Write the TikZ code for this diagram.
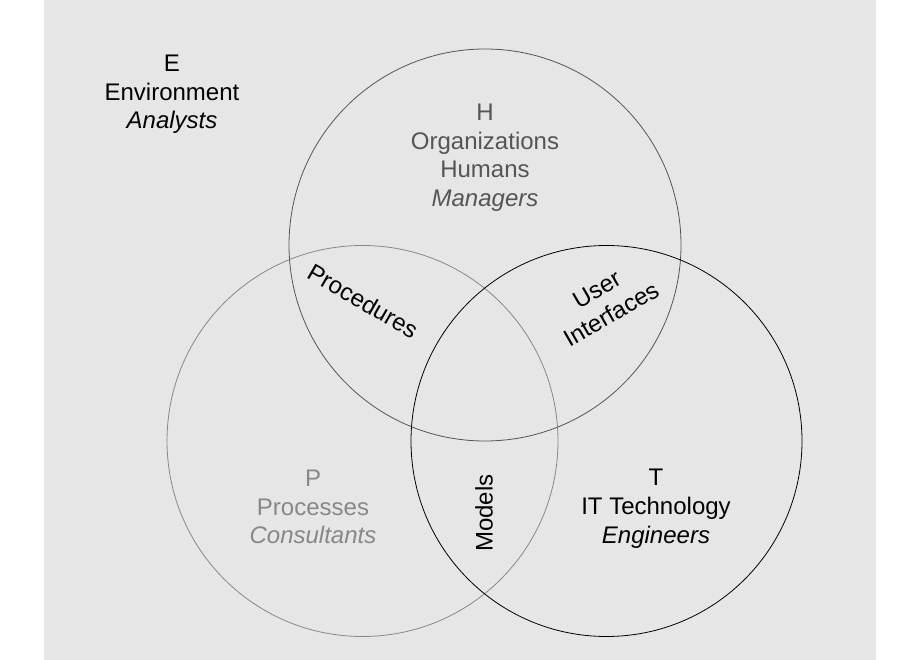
\documentclass[tikz,border=0pt]{standalone}
\usepackage{fontspec}
\setmainfont{Liberation Sans}
\definecolor{bg}{HTML}{E6E6E6}
\definecolor{hgray}{HTML}{555555}
\definecolor{pgray}{HTML}{888888}
\begin{document}
\begin{tikzpicture}[x=1pt,y=-1pt,
  lbl/.style={inner sep=0pt,anchor=base,font=\fontsize{24}{28.7}\selectfont},
  rlbl/.style={inner sep=0pt,align=center,font=\fontsize{24}{28.7}\selectfont},
  ring/.style={line width=0.8pt}]
\fill[white] (0,0) rectangle (920,660);
\useasboundingbox (0,0) rectangle (920,660);
\fill[bg] (44,0) rectangle (876,660);
% circles
\draw[ring,hgray] (485,245) circle[radius=196];
\draw[ring,pgray] (362.5,441) circle[radius=195.5];
\draw[ring,black] (606.5,441) circle[radius=195.5];
% E
\node[lbl] (e1) at (172,72) {E};
\node[lbl] (e2) at (172,101) {Environment};
\node[lbl] (e3) at (172,129) {\itshape Analysts};
% H
\node[lbl,text=hgray] (h1) at (485,121) {H};
\node[lbl,text=hgray] (h2) at (485,150) {Organizations};
\node[lbl,text=hgray] (h3) at (485,178) {Humans};
\node[lbl,text=hgray] (h4) at (485,207) {\itshape Managers};
% P
\node[lbl,text=pgray] (p1) at (313,486) {P};
\node[lbl,text=pgray] (p2) at (313,515) {Processes};
\node[lbl,text=pgray] (p3) at (313,543) {\itshape Consultants};
% T
\node[lbl] (t1) at (656,485) {T};
\node[lbl] (t2) at (656,514) {IT Technology};
\node[lbl] (t3) at (656,543) {\itshape Engineers};
% intersections
\node[rlbl,rotate=-30] (proc) at (363,301) {Procedures};
\node[rlbl,rotate=30] (ui) at (604,302) {User\\Interfaces};
\node[rlbl,rotate=90] (mod) at (484,513) {Models};
\end{tikzpicture}
\end{document}
